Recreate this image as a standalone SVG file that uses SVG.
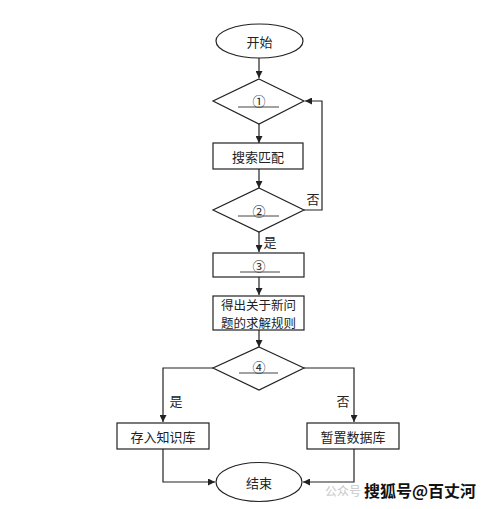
<svg xmlns="http://www.w3.org/2000/svg" width="490" height="509" viewBox="0 0 490 509">
<style>
.s{fill:#fff;stroke:#222;stroke-width:1.2}
.t{font-family:"Noto Sans CJK SC","Noto Sans",sans-serif;font-size:13px;fill:#222;text-anchor:middle;dominant-baseline:central}
.c{fill:none;stroke:#222;stroke-width:1.2}
.u{stroke:#444;stroke-width:1}
</style>
<defs>
<marker id="a" viewBox="0 0 10 10" refX="10" refY="5" markerWidth="7" markerHeight="7" markerUnits="userSpaceOnUse" orient="auto">
<path d="M0,0 L10,5 L0,10 z" fill="#222"/>
</marker>
</defs>
<rect width="490" height="509" fill="#fff"/>
<g id="connectors">
<path class="c" d="M259,58 V78" marker-end="url(#a)"/>
<path class="c" d="M259,124 V143" marker-end="url(#a)"/>
<path class="c" d="M259,169 V188" marker-end="url(#a)"/>
<path class="c" d="M304,210 H322 V101 H305" marker-end="url(#a)"/>
<path class="c" d="M259,232 V252" marker-end="url(#a)"/>
<path class="c" d="M259,277 V295" marker-end="url(#a)"/>
<path class="c" d="M259,330 V347" marker-end="url(#a)"/>
<path class="c" d="M213,368 H163 V422" marker-end="url(#a)"/>
<path class="c" d="M304,368 H354 V422" marker-end="url(#a)"/>
<path class="c" d="M163,449 V482 H215" marker-end="url(#a)"/>
<path class="c" d="M354,449 V482 H303" marker-end="url(#a)"/>
<text class="t" x="313" y="198">否</text>
<text class="t" x="270" y="241">是</text>
<text class="t" x="176" y="400">是</text>
<text class="t" x="343" y="400">否</text>
</g>
<g id="start">
<ellipse class="s" cx="259.5" cy="41" rx="43.5" ry="17"/>
<text class="t" x="259.5" y="41">开始</text>
</g>
<g id="d1">
<polygon class="s" points="259,79 304,101 259,124 213,101"/>
<text class="t" x="259" y="100">①</text>
<line class="u" x1="238" y1="107" x2="279" y2="107"/>
</g>
<g id="search">
<rect class="s" x="213" y="143" width="90" height="26"/>
<text class="t" x="258" y="156">搜索匹配</text>
</g>
<g id="d2">
<polygon class="s" points="259,188 304,210 259,232 213,210"/>
<text class="t" x="259" y="210">②</text>
<line class="u" x1="238" y1="216" x2="279" y2="216"/>
</g>
<g id="box3">
<rect class="s" x="213" y="253" width="91" height="24"/>
<text class="t" x="259" y="265">③</text>
<line class="u" x1="240" y1="272" x2="280" y2="272"/>
</g>
<g id="rule">
<rect class="s" x="213" y="296" width="91" height="34"/>
<text class="t" x="258.5" y="304.5" style="font-size:12.5px">得出关于新问</text>
<text class="t" x="258.5" y="322" style="font-size:12.5px">题的求解规则</text>
</g>
<g id="d4">
<polygon class="s" points="259,347 304,368 259,390 213,368"/>
<text class="t" x="259" y="366">④</text>
<line class="u" x1="239" y1="373" x2="278" y2="373"/>
</g>
<g id="store">
<rect class="s" x="117" y="423" width="92" height="26"/>
<text class="t" x="163" y="436">存入知识库</text>
</g>
<g id="temp">
<rect class="s" x="307" y="423" width="92" height="26"/>
<text class="t" x="353" y="436">暂置数据库</text>
</g>
<g id="end">
<ellipse class="s" cx="259" cy="482" rx="43" ry="19.5"/>
<text class="t" x="259" y="482">结束</text>
</g>
<g id="watermark">
<text x="325" y="496" style="font-family:'Noto Sans CJK SC',sans-serif;font-size:12px;fill:#c8c8c8">公众号</text>
<text x="364" y="497" style="font-family:'Noto Sans CJK SC',sans-serif;font-size:16px;font-weight:bold;fill:#111;stroke:#fff;stroke-width:2;paint-order:stroke">搜狐号@百丈河</text>
</g>
</svg>
